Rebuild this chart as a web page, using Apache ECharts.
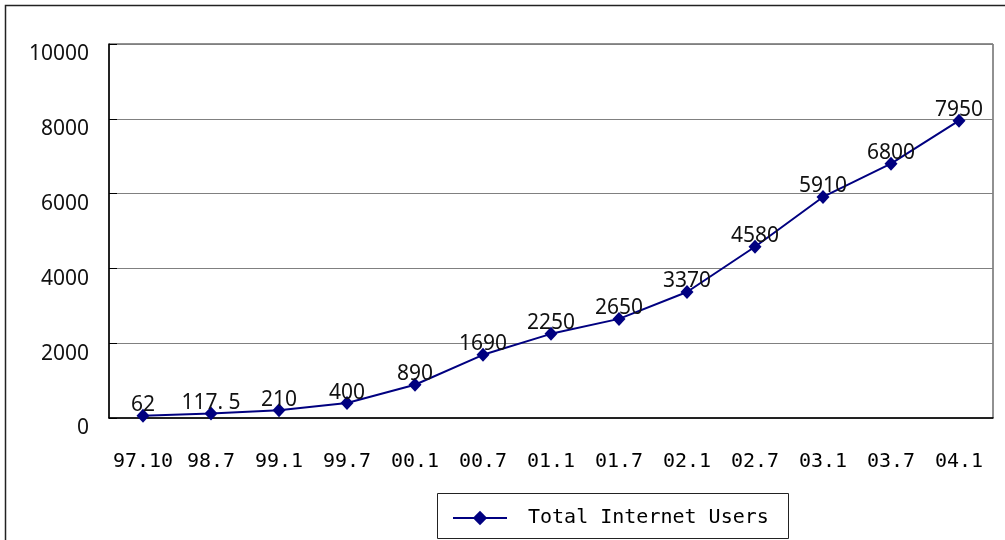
<!DOCTYPE html>
<html>
<head>
<meta charset="utf-8">
<script src="https://cdn.jsdelivr.net/npm/echarts@6/dist/echarts.min.js"></script>
<style>
  html, body { margin: 0; padding: 0; background: #fff; }
  #chart { width: 1005px; height: 540px; }
</style>
</head>
<body>
<div id="chart"></div>
<script>
const categories = ['97.10', '98.7', '99.1', '99.7', '00.1', '00.7', '01.1', '01.7', '02.1', '02.7', '03.1', '03.7', '04.1']
const users = [62, 117.5, 210, 400, 890, 1690, 2250, 2650, 3370, 4580, 5910, 6800, 7950]
const seriesName = 'Total Internet Users'

const chart = echarts.init(document.getElementById('chart'))
const monoFont = '"DejaVu Sans Mono", "Liberation Mono", monospace'
const sansFont = '"Noto Sans", "Open Sans", sans-serif'

chart.setOption({
  animation: false,
  graphic: [
    {
      type: 'rect',
      shape: { x: 5.5, y: 5.5, width: 1010, height: 545 },
      style: { fill: 'none', stroke: '#222', lineWidth: 1.5 }
    },
    {
      type: 'rect',
      shape: { x: 437.5, y: 493.5, width: 351, height: 45 },
      style: { fill: 'none', stroke: '#222', lineWidth: 1 }
    }
  ],
  grid: {
    left: 109,
    right: 12,
    top: 44,
    bottom: 122,
    show: true,
    borderColor: '#222',
    borderWidth: 1
  },
  legend: {
    left: 447,
    top: 503,
    itemWidth: 54,
    itemHeight: 18,
    textStyle: { fontFamily: monoFont, fontSize: 20, color: '#000', padding: [0, 0, 0, 16] },
    data: [seriesName]
  },
  xAxis: {
    type: 'category',
    data: categories,
    boundaryGap: true,
    axisLine: { lineStyle: { color: '#000', width: 1.5 } },
    axisTick: { inside: true, length: 8, lineStyle: { color: '#000' } },
    axisLabel: { interval: 0, margin: 34, fontFamily: monoFont, fontSize: 20, color: '#000' }
  },
  yAxis: {
    type: 'value',
    min: 0,
    max: 10000,
    interval: 2000,
    axisLine: { show: true, lineStyle: { color: '#000', width: 1.5 } },
    axisTick: { show: true, inside: true, length: 8, lineStyle: { color: '#000' } },
    splitLine: { lineStyle: { color: '#808080', width: 1 } },
    axisLabel: {
      margin: 20,
      fontFamily: sansFont,
      fontSize: 21,
      color: '#111',
      verticalAlign: 'top',
      formatter: v => String(v)
    }
  },
  series: [
    {
      name: seriesName,
      type: 'line',
      data: users,
      symbol: 'diamond',
      symbolSize: [13, 14],
      itemStyle: { color: '#000080' },
      lineStyle: { color: '#000080', width: 2 },
      label: {
        show: true,
        position: 'top',
        distance: -7,
        fontFamily: sansFont,
        fontSize: 21,
        color: '#111',
        formatter: p => String(p.value).replace('.', '. ')
      }
    }
  ]
})
</script>
</body>
</html>
